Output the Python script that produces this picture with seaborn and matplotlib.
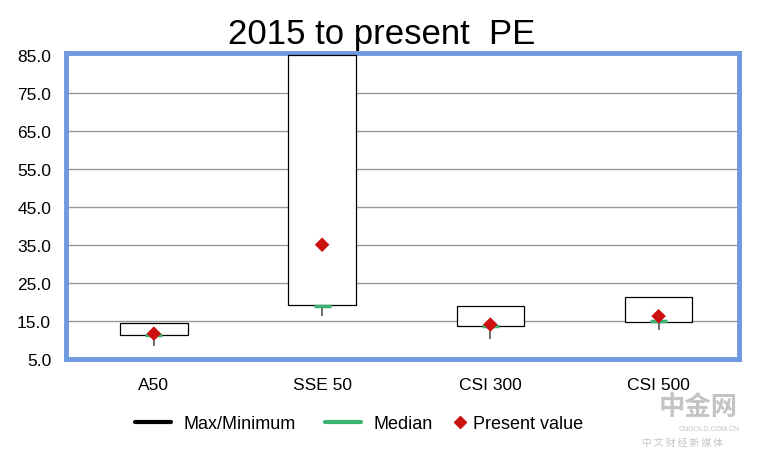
import numpy as np
import pandas as pd
import seaborn as sns
import matplotlib.pyplot as plt
from matplotlib.lines import Line2D

# values (PE since 2015)
indices = ["A50", "SSE 50", "CSI 300", "CSI 500"]
box_top = [14.5, 85.0, 18.8, 21.2]
box_bottom = [11.3, 19.2, 13.6, 14.7]
whisker_low = [8.4, 16.3, 10.1, 12.5]
median = [11.2, 19.0, 13.6, 15.0]
present = [11.6, 35.0, 14.0, 16.2]

yticks = [5, 15, 25, 35, 45, 55, 65, 75, 85]

df = pd.DataFrame({"index": indices, "top": box_top, "bottom": box_bottom,
                   "low": whisker_low, "median": median, "present": present})

sns.set_style("white")
plt.rcParams['font.family'] = ['Liberation Sans', 'DejaVu Sans']
plt.rcParams['text.color'] = 'black'

fig = plt.figure(figsize=(7.63, 4.6), dpi=100)
ax = fig.add_axes([0.087, 0.218, 0.882, 0.665])

x = np.arange(len(indices))
ax.vlines(x, df["low"], df["bottom"], color="#555555", lw=1.2, zorder=2)
ax.bar(x, df["top"] - df["bottom"], bottom=df["bottom"], width=0.4,
       facecolor="white", edgecolor="black", lw=0.9, zorder=3)
ax.hlines(df["median"], x - 0.05, x + 0.05, color="#3cb371", lw=2.5, zorder=4)
sns.scatterplot(x=x, y=df["present"], marker="D", s=55, color="#cc1111",
                edgecolor="none", ax=ax, zorder=5)

ax.set_xlim(-0.52, 3.48)
ax.set_ylim(5, 85.5)
ax.set_ylabel("")
ax.set_yticks(yticks)
ax.set_yticklabels([f"{v:.1f}" for v in yticks], fontsize=12.5)
ax.set_xticks(x)
ax.set_xticklabels(indices, fontsize=12.5)
ax.tick_params(axis="x", length=0, pad=13, colors="black")
ax.tick_params(axis="y", length=0, pad=11, colors="black")
ax.set_axisbelow(True)
for v in yticks[1:-1]:
    ax.axhline(v, color="#999999", lw=1, zorder=0)

for s in ax.spines.values():
    s.set_color("#6f9ae0")
    s.set_linewidth(3.5)

fig.text(0.5, 0.925, "2015 to present  PE", ha="center", va="center", fontsize=25)

line_handles = [Line2D([], [], color="black", lw=3),
                Line2D([], [], color="#3cb371", lw=3)]
leg1 = fig.legend(line_handles, ["Max/Minimum", "Median"], loc="center",
                  bbox_to_anchor=(0.372, 0.077), ncol=2, frameon=False, fontsize=13,
                  handlelength=2.0, columnspacing=1.6, handletextpad=0.7)
leg2 = fig.legend([Line2D([], [], color="#cc1111", marker="D", lw=0, markersize=6)],
                  ["Present value"], loc="center", bbox_to_anchor=(0.68, 0.077),
                  frameon=False, fontsize=13, handlelength=0.6, handletextpad=0.4)

# faint watermark
fig.text(0.915, 0.115, "中金网", family=['Noto Sans CJK SC', 'DejaVu Sans'],
         fontsize=19, color="#c4c4c4", ha="center", va="center", weight="bold")
fig.text(0.93, 0.062, "CNGOLD.COM.CN", fontsize=5, color="#c4c4c4", ha="center")
fig.text(0.895, 0.03, "中 文 财 经 新 媒 体", family=['Noto Sans CJK SC', 'DejaVu Sans'],
         fontsize=7, color="#c4c4c4", ha="center")

fig.savefig("out.png", dpi=100)
